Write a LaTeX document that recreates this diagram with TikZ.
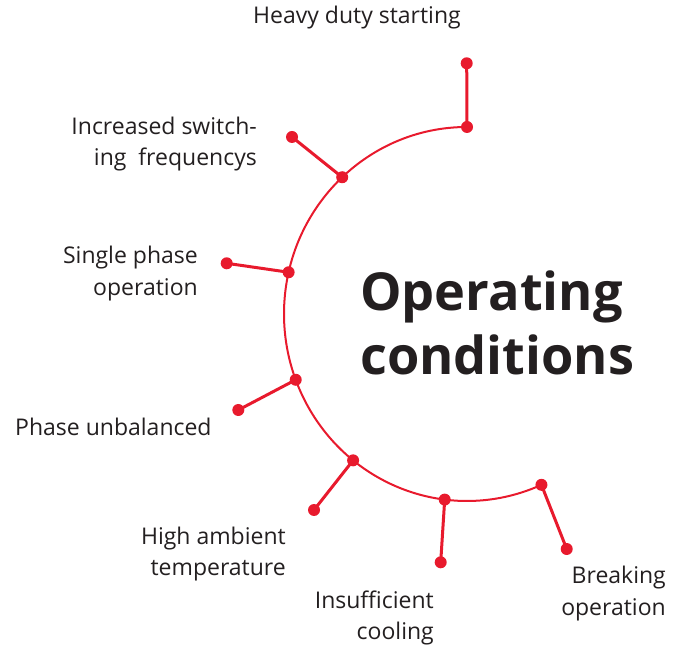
\documentclass[tikz,border=0pt]{standalone}
\usepackage{fontspec}
\setmainfont{Open Sans}
\usetikzlibrary{calc}
\definecolor{abbred}{RGB}{232,26,45}
\definecolor{txt}{RGB}{35,31,32}
\tikzset{
  dot/.style={circle,fill=abbred,inner sep=0pt,minimum size=12pt},
  arcline/.style={draw=abbred,line width=2pt},
  spoke/.style={draw=abbred,line width=3pt},
  lbl/.style={font=\fontsize{23}{31.5}\selectfont,text=txt,inner sep=0pt},
  title/.style={font=\fontsize{52.3}{64}\selectfont\bfseries,text=txt,inner sep=0pt,align=left}
}
\begin{document}
\begin{tikzpicture}[x=1pt,y=1pt]
\useasboundingbox (0,0) rectangle (682,645);
\coordinate (c) at (467,331);
% points on the arc
\coordinate (a1) at ($(c)+(90:183 and 187)$);
\coordinate (a2) at ($(c)+(133:183 and 187)$);
\coordinate (a3) at ($(c)+(167.1:183 and 187)$);
\coordinate (a4) at ($(c)+(200.6:183 and 187)$);
\coordinate (a5) at ($(c)+(231.5:183 and 187)$);
\coordinate (a6) at ($(c)+(263:183 and 187)$);
\coordinate (a7) at ($(c)+(294:183 and 187)$);
% outer points
\coordinate (o1) at (466.7,581.7);
\coordinate (o2) at (292,508);
\coordinate (o3) at (226.7,381.7);
\coordinate (o4) at (238.3,235);
\coordinate (o5) at (314,135);
\coordinate (o6) at (440.7,82.7);
\coordinate (o7) at (566.7,96);
% arc
\draw[arcline] (a1) arc[start angle=90,end angle=294,x radius=183,y radius=187];
% spokes
\foreach \i in {1,...,7}{\draw[spoke] (a\i) -- (o\i);}
% dots
\foreach \i in {1,...,7}{
  \node[dot] (da\i) at (a\i) {};
  \node[dot] (do\i) at (o\i) {};
}
% labels
\node[lbl,anchor=center] (t1) at (357,627) {Heavy duty starting};
\node[lbl,anchor=east,align=right] (t2) at (257,501) {Increased switch-\\ing\ \ frequencys};
\node[lbl,anchor=east,align=right] (t3) at (198,371.5) {Single phase\\operation};
\node[lbl,anchor=west] (t4) at (15,218) {Phase unbalanced};
\node[lbl,anchor=east,align=right] (t5) at (286,91) {High ambient\\temperature};
\node[lbl,anchor=east,align=right] (t6) at (434,27) {Insufficient\\cooling};
\node[lbl,anchor=east,align=right] (t7) at (666,51.5) {Breaking\\operation};
\node[title,anchor=west] (tt) at (360,322) {Operating\\conditions};
\end{tikzpicture}
\end{document}
